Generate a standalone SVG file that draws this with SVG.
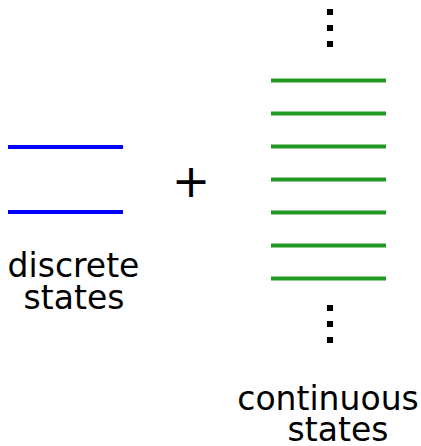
<svg xmlns="http://www.w3.org/2000/svg" width="421" height="446" viewBox="0 0 421 446">
<style>
.lbl{font-family:"DejaVu Sans",sans-serif;font-size:33px;fill:#000;text-anchor:middle}
.disc{stroke:#0000ff;stroke-width:4}
.cont{stroke:#229922;stroke-width:4}
.dot{fill:#000}
</style>
<rect width="421" height="446" fill="#fff"/>
<g id="discrete">
<line class="disc" x1="8" y1="147" x2="123" y2="147"/>
<line class="disc" x1="8" y1="212" x2="123" y2="212"/>
<text class="lbl" x="73.5" y="277">discrete</text>
<text class="lbl" x="74" y="309">states</text>
</g>
<g id="plus">
<text class="lbl" x="191" y="197" style="font-size:46px">+</text>
</g>
<g id="continuous">
<rect class="dot" x="327" y="9" width="6" height="6"/>
<rect class="dot" x="327" y="25" width="6" height="6"/>
<rect class="dot" x="327" y="41" width="6" height="6"/>
<line class="cont" x1="271" y1="80.5" x2="386" y2="80.5"/>
<line class="cont" x1="271" y1="113.5" x2="386" y2="113.5"/>
<line class="cont" x1="271" y1="146.5" x2="386" y2="146.5"/>
<line class="cont" x1="271" y1="179.5" x2="386" y2="179.5"/>
<line class="cont" x1="271" y1="212.5" x2="386" y2="212.5"/>
<line class="cont" x1="271" y1="245.5" x2="386" y2="245.5"/>
<line class="cont" x1="271" y1="278.5" x2="386" y2="278.5"/>
<rect class="dot" x="327" y="305" width="6" height="6"/>
<rect class="dot" x="327" y="321" width="6" height="6"/>
<rect class="dot" x="327" y="337" width="6" height="6"/>
<text class="lbl" x="328" y="410">continuous</text>
<text class="lbl" x="338" y="441">states</text>
</g>
<g id="connectors"/>
</svg>
